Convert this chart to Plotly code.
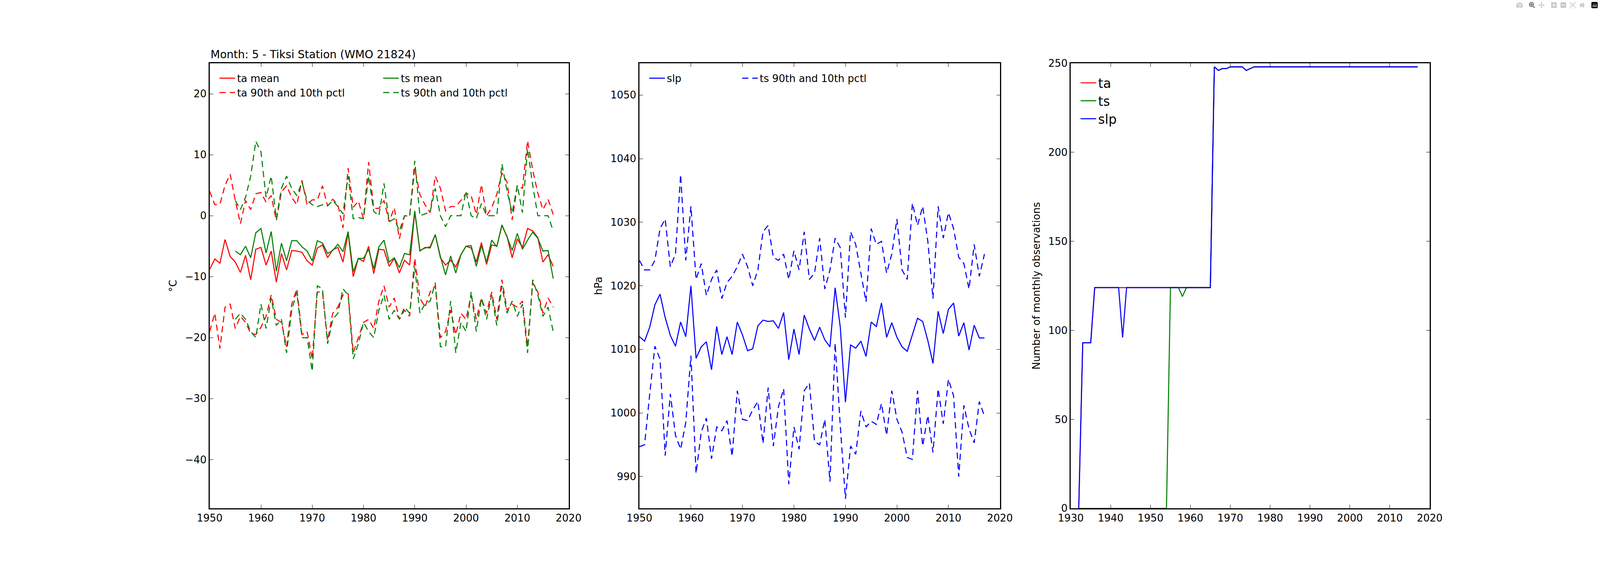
import plotly.graph_objects as go

# years for the two time-series panels
years = list(range(1950, 2018))
ts_years = list(range(1955, 2018))
obs_years = list(range(1932, 2018))

ta_mean = [-8.8, -7.1, -7.8, -3.9, -6.7, -7.6, -9.3, -6.5, -10.5, -5.5,
           -5.2, -8.1, -5.8, -10.9, -6.2, -8.9, -5.7, -5.8, -6.0, -7.4,
           -8.1, -5.3, -4.8, -6.9, -5.6, -5.2, -7.6, -2.8, -10.0, -7.0,
           -7.5, -5.0, -9.5, -5.5, -5.6, -8.3, -7.0, -9.4, -7.3, -8.1,
           0.6, -5.7, -5.3, -5.1, -3.1, -6.9, -8.1, -7.3, -8.4, -6.4,
           -5.0, -5.3, -7.6, -4.4, -8.0, -4.8, -5.0, -1.6, -3.4, -6.9,
           -3.8, -5.2, -2.1, -2.5, -3.6, -7.6, -6.4, -8.3]
ta_p90 = [4.0, 1.8, 1.9, 5.0, 6.8, 2.5, -1.3, 2.5, 1.0, 3.6,
          3.8, 2.2, 3.3, -0.8, 3.9, 4.9, 3.0, 1.8, 5.8, 1.8,
          2.6, 2.6, 4.9, 1.6, 2.7, 1.8, -2.0, 7.8, 1.4, 2.4,
          -0.5, 8.8, 1.2, 1.2, 2.5, -1.0, 1.3, -3.8, 0.0, -0.1,
          7.8, 3.5, 1.8, 0.5, 6.5, 4.5, 0.8, 1.5, 1.5, 2.5,
          3.7, 3.3, 0.2, 5.1, 0.0, 1.3, 3.5, 7.0, 5.5, -0.7,
          4.9, 4.5, 12.3, 7.5, 3.7, 1.0, 2.7, 0.2]
ta_p10 = [-19.0, -16.0, -21.8, -15.0, -14.5, -18.5, -16.5, -17.5, -19.3, -19.5,
          -18.3, -16.5, -13.0, -17.0, -17.5, -21.5, -14.5, -12.0, -19.5, -19.0,
          -23.5, -12.5, -12.5, -20.5, -16.0, -15.0, -13.0, -12.8, -22.5, -20.0,
          -17.5, -17.0, -18.5, -14.0, -11.5, -15.0, -13.5, -17.0, -15.5, -16.5,
          -7.0, -13.5, -15.0, -12.5, -11.5, -20.0, -19.0, -15.5, -19.5, -16.0,
          -17.0, -13.0, -17.0, -13.5, -16.0, -12.5, -17.0, -10.5, -15.5, -14.5,
          -15.0, -14.0, -21.5, -11.0, -12.5, -16.0, -13.5, -15.0]

ts_mean = [-5.8, -6.4, -5.0, -6.9, -2.8,
           -2.1, -6.1, -2.6, -9.1, -4.5, -7.4, -4.1, -4.1, -5.1, -5.8,
           -7.4, -4.1, -4.5, -6.2, -5.7, -4.7, -5.9, -2.6, -9.2, -7.0,
           -7.0, -5.5, -8.7, -5.1, -4.0, -7.6, -6.9, -8.5, -6.2, -6.4,
           0.8, -5.8, -5.2, -5.3, -3.1, -6.7, -9.7, -6.6, -9.4, -6.4,
           -5.0, -4.9, -8.3, -4.9, -7.6, -4.0, -5.1, -1.5, -3.5, -5.7,
           -2.9, -5.5, -4.0, -2.7, -3.7, -5.8, -5.7, -10.3]
ts_p90 = [2.5, 1.0, 3.0, 6.5, 12.2,
          10.5, 3.0, 6.5, -0.5, 4.5, 6.5, 4.5, 3.3, 5.5, 2.5,
          1.8, 1.5, 1.8, 1.6, 2.5, 1.5, 0.3, 6.5, -0.5, -0.3,
          -0.5, 6.5, 0.7, 0.0, 5.3, -1.0, -0.5, -2.5, 0.0, -0.1,
          9.0, 0.0, 0.3, 0.6, 4.5, 0.0, -1.8, 0.0, 0.0, 0.0,
          4.0, 0.0, -0.5, 2.0, 0.0, 0.0, 0.0, 8.5, 4.0, 0.5,
          5.0, 0.5, 11.0, 5.0, 0.0, 0.0, 0.0, -2.5]
ts_p10 = [-17.0, -16.0, -17.0, -19.0, -20.0,
          -14.5, -18.5, -13.5, -18.0, -17.0, -22.5, -15.5, -12.5, -20.0, -20.0,
          -25.5, -11.5, -12.0, -21.0, -17.0, -16.0, -12.0, -13.0, -23.5, -21.0,
          -17.5, -19.0, -20.0, -15.5, -13.0, -17.0, -15.5, -17.0, -15.0, -16.0,
          -8.5, -16.0, -14.5, -14.0, -11.0, -21.5, -21.5, -14.0, -22.5, -17.5,
          -19.0, -12.5, -19.0, -13.5, -17.0, -13.0, -18.0, -11.5, -16.0, -14.0,
          -16.5, -14.5, -22.5, -10.5, -13.0, -16.5, -15.0, -19.0]

slp_mean = [1012.0, 1011.3, 1013.5, 1017.0, 1018.7, 1015.0, 1012.2, 1010.5, 1014.3, 1012.0,
            1020.0, 1008.6, 1010.4, 1011.2, 1006.8, 1013.6, 1009.2, 1012.0, 1009.2, 1014.3,
            1012.3, 1009.8, 1010.1, 1013.7, 1014.6, 1014.4, 1014.5, 1013.3, 1015.8, 1008.4,
            1013.2, 1009.2, 1015.4, 1013.2, 1011.4, 1013.5, 1011.5, 1010.4, 1019.7, 1013.5,
            1001.7, 1010.7, 1010.2, 1011.3, 1008.9, 1014.3, 1013.6, 1017.3, 1011.9, 1014.2,
            1011.9, 1010.4, 1009.7, 1012.3, 1014.9, 1014.4, 1011.4, 1007.8, 1016.0, 1012.5,
            1016.3, 1017.3, 1012.1, 1014.2, 1009.9, 1013.8, 1011.8, 1011.8]
slp_p90 = [1024, 1022.5, 1022.5, 1024, 1029, 1030.5, 1023, 1025, 1037.5, 1024,
           1032.5, 1021, 1023.5, 1018.5, 1021, 1022.5, 1018, 1020.5, 1021.5, 1023,
           1025, 1023, 1020, 1022.5, 1028.5, 1029.5, 1024.5, 1024, 1025, 1021,
           1025.5, 1022.5, 1028.5, 1021, 1022, 1027.5, 1019.5, 1022.5, 1027.5, 1026,
           1015, 1028.5, 1026.5, 1022, 1017.5, 1029, 1026.5, 1027, 1022, 1025,
           1030.5, 1022.5, 1021, 1033, 1029.5, 1032.5, 1027, 1018, 1032.5, 1027.5,
           1031.5, 1029, 1024.5, 1023.5, 1019.5, 1026.5, 1021.5, 1025]
slp_p10 = [994.7, 995, 1003, 1010.5, 1008.5, 993.3, 1003, 996.5, 994.3, 998.5,
           1009, 990.5, 997, 999.2, 992.8, 997.8, 997.2, 998.8, 993.2, 1003.5,
           999, 998.8, 1000.5, 1001.8, 995.2, 1004, 994.8, 1001, 1003.8, 988.8,
           997.8, 994.3, 1003.5, 1004.7, 995.5, 995, 999, 989.2, 1011, 998,
           986.5, 994.8, 993.5, 1000.3, 997.8, 998.7, 998.2, 1001.5, 996.5, 1003.5,
           999, 997, 993, 992.7, 1003.5, 994.8, 999.6, 993.8, 1003.8, 998.3,
           1005.3, 1002.7, 990, 1001.2, 997.5, 995.3, 1001.8, 999.5]

# monthly observation counts, 1932-2017
ta_obs = [0, 93, 93, 93, 124, 124, 124, 124, 124, 124,
          124, 124, 124, 124, 124, 124, 124, 124, 124, 124,
          124, 124, 124, 124, 124, 124, 124, 124, 124, 124,
          124, 124, 124, 124, 248, 246, 247, 247, 248, 248,
          248, 248, 246, 247, 248, 248, 248, 248, 248, 248,
          248, 248, 248, 248, 248, 248, 248, 248, 248, 248,
          248, 248, 248, 248, 248, 248, 248, 248, 248, 248,
          248, 248, 248, 248, 248, 248, 248, 248, 248, 248,
          248, 248, 248, 248, 248, 248]
ts_obs = [0, 0, 0, 0, 0, 0, 0, 0, 0, 0,
          0, 0, 0, 0, 0, 0, 0, 0, 0, 0,
          0, 0, 0, 124, 124, 124, 119, 124, 124, 124,
          124, 124, 124, 124, 248, 246, 247, 247, 248, 248,
          248, 248, 246, 247, 248, 248, 248, 248, 248, 248,
          248, 248, 248, 248, 248, 248, 248, 248, 248, 248,
          248, 248, 248, 248, 248, 248, 248, 248, 248, 248,
          248, 248, 248, 248, 248, 248, 248, 248, 248, 248,
          248, 248, 248, 248, 248, 248]
slp_obs = [0, 93, 93, 93, 124, 124, 124, 124, 124, 124,
           124, 96, 124, 124, 124, 124, 124, 124, 124, 124,
           124, 124, 124, 124, 124, 124, 124, 124, 124, 124,
           124, 124, 124, 124, 248, 246, 247, 247, 248, 248,
           248, 248, 246, 247, 248, 248, 248, 248, 248, 248,
           248, 248, 248, 248, 248, 248, 248, 248, 248, 248,
           248, 248, 248, 248, 248, 248, 248, 248, 248, 248,
           248, 248, 248, 248, 248, 248, 248, 248, 248, 248,
           248, 248, 248, 248, 248, 248]

RED, GREEN, BLUE = "#ff0000", "#008000", "#0000ff"
LW = 2.7
DASH = "16px,10px"
FONT = "DejaVu Sans"
FS = 26

fig = go.Figure()


def line(x, y, color, name, xa, ya, leg, dash="solid", show=True, group=None):
    fig.add_trace(go.Scatter(x=x, y=y, mode="lines", name=name,
                             line=dict(color=color, width=LW, dash=dash),
                             xaxis=xa, yaxis=ya, legend=leg,
                             showlegend=show, legendgroup=group or name))


# panel 1
line(years, ta_mean, RED, "ta mean", "x", "y", "legend")
line(years, ta_p90, RED, "ta 90th and 10th pctl", "x", "y", "legend", DASH, True, "tap")
line(years, ta_p10, RED, "ta 90th and 10th pctl", "x", "y", "legend", DASH, False, "tap")
line(ts_years, ts_mean, GREEN, "ts mean", "x", "y", "legend2")
line(ts_years, ts_p90, GREEN, "ts 90th and 10th pctl", "x", "y", "legend2", DASH, True, "tsp")
line(ts_years, ts_p10, GREEN, "ts 90th and 10th pctl", "x", "y", "legend2", DASH, False, "tsp")

# panel 2
line(years, slp_mean, BLUE, "slp", "x2", "y2", "legend3")
line(years, slp_p90, BLUE, "ts 90th and 10th pctl", "x2", "y2", "legend4", DASH, True, "sp")
line(years, slp_p10, BLUE, "ts 90th and 10th pctl", "x2", "y2", "legend4", DASH, False, "sp")

# panel 3
line(obs_years, ta_obs, RED, "ta", "x3", "y3", "legend5")
line(obs_years, ts_obs, GREEN, "ts", "x3", "y3", "legend5")
line(obs_years, slp_obs, BLUE, "slp", "x3", "y3", "legend5")

ax = dict(showline=True, linecolor="black", linewidth=2.7, mirror="ticks",
          ticks="inside", ticklen=9, tickwidth=1.3, tickcolor="black",
          showgrid=False, zeroline=False,
          tickfont=dict(family=FONT, size=FS, color="black"))
ytitle = dict(font=dict(family=FONT, size=FS), standoff=14)

fig.update_layout(
    xaxis=dict(ax, domain=[0.125, 0.353], range=[1950, 2020], dtick=10, anchor="y"),
    yaxis=dict(ax, domain=[0.125, 0.9], range=[-48, 25], dtick=10, anchor="x",
               title=dict(ytitle, text="°C")),
    xaxis2=dict(ax, domain=[0.398, 0.627], range=[1950, 2020], dtick=10, anchor="y2"),
    yaxis2=dict(ax, domain=[0.125, 0.9], range=[985, 1055], dtick=10, anchor="x2",
                title=dict(ytitle, text="hPa")),
    xaxis3=dict(ax, domain=[0.672, 0.9], range=[1930, 2020], dtick=10, anchor="y3"),
    yaxis3=dict(ax, domain=[0.125, 0.9], range=[0, 250], dtick=50, anchor="x3",
                title=dict(ytitle, text="Number of monthly observations")),
    autosize=True,
    plot_bgcolor="white", paper_bgcolor="white",
    font=dict(family=FONT, size=FS, color="black"),
    margin=dict(l=0, r=0, t=0, b=0),
)

leg = dict(bgcolor="rgba(0,0,0,0)", font=dict(family=FONT, size=FS),
           xanchor="left", yanchor="top", tracegroupgap=0, itemwidth=40)
fig.update_layout(
    legend=dict(leg, x=0.13, y=0.89),
    legend2=dict(leg, x=0.234, y=0.89),
    legend3=dict(leg, x=0.403, y=0.89),
    legend4=dict(leg, x=0.462, y=0.89),
    legend5=dict(leg, x=0.677, y=0.885, font=dict(family=FONT, size=33)),
)

fig.add_annotation(text="Month: 5 - Tiksi Station (WMO 21824)", xref="paper", yref="paper",
                   x=0.125, y=0.903, xanchor="left", yanchor="bottom", showarrow=False,
                   font=dict(family=FONT, size=28, color="black"))

fig.write_html("out.html", default_width="100vw", default_height="100vh",
               config={"responsive": True},
               post_script="document.body.style.margin='0';"
                           "document.body.style.overflow='hidden';"
                           "Plotly.Plots.resize(document.getElementById('{plot_id}'));")
